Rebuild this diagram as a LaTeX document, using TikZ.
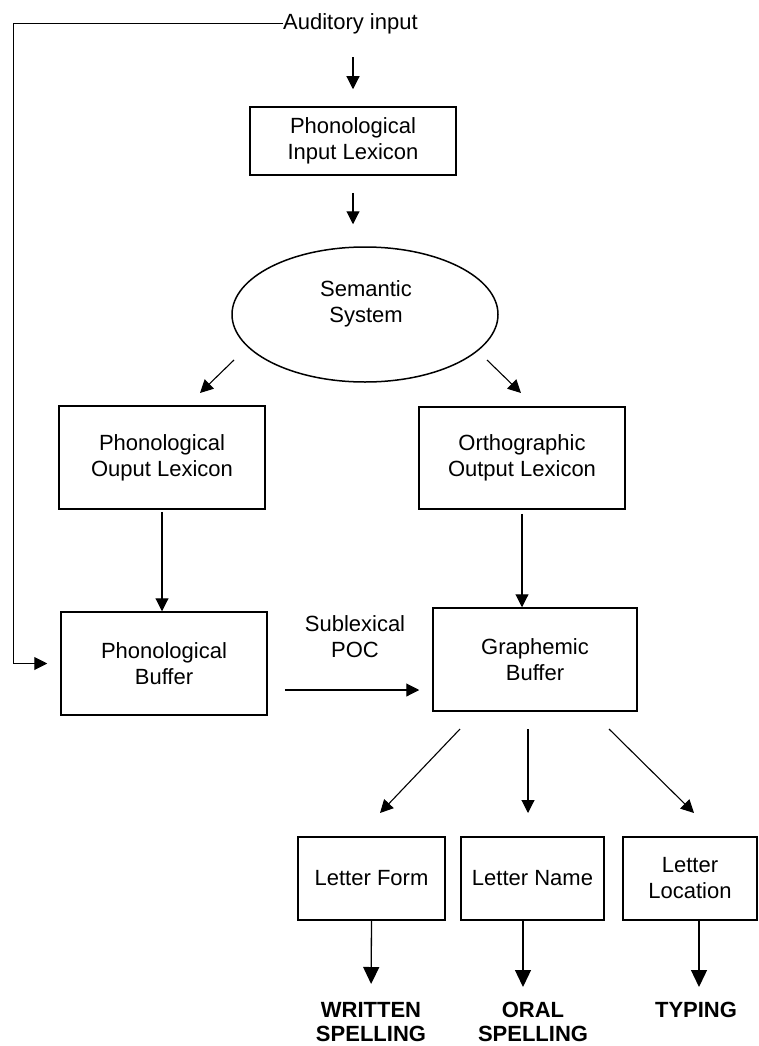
\documentclass[tikz,border=0pt]{standalone}
\usepackage{fontspec}
\setmainfont{Liberation Sans}
\usetikzlibrary{arrows.meta,shapes.geometric}

\begin{document}
\begin{tikzpicture}[x=1pt,y=-1pt,
        every node/.style={font=\fontsize{22}{26}\selectfont},
        box/.style={draw,line width=1.5pt,rectangle,align=center,inner sep=0pt},
        link/.style={line width=1.1pt,-{Triangle[length=13pt,width=13pt]}},
        biglink/.style={line width=1.3pt,-{Triangle[length=17pt,width=16pt]}},
        outlbl/.style={font=\fontsize{22}{24}\selectfont\bfseries,align=center,inner sep=0pt,anchor=north}]
        \useasboundingbox (0,0) rectangle (758,1046);
        % Input and lexicons
        \node[inner sep=0pt,anchor=west,text height=16pt,text depth=5pt] (aud) at (283,24) {Auditory input};
        \node[box,minimum width=206pt,minimum height=68pt] (pil) at (353,141) {Phonological\\Input Lexicon};
        \node[draw,ellipse,line width=1.5pt,minimum width=266pt,minimum height=135pt,inner sep=0pt] (sem) at (365,314.5) {};
        \node[align=center,inner sep=0pt] (semtxt) at (366,304) {Semantic\\System};
        \node[box,minimum width=206pt,minimum height=103pt] (pol) at (162,457.5) {Phonological\\Ouput Lexicon};
        \node[box,minimum width=206pt,minimum height=102pt] (ool) at (522,458) {Orthographic\\Output Lexicon};
        % Buffers
        \node[box,minimum width=206pt,minimum height=103pt] (pb) at (164,663.5) {Phonological\\Buffer};
        \node[box,minimum width=204pt,minimum height=103pt] (gb) at (535,659.5) {Graphemic\\Buffer};
        \node[align=center,inner sep=0pt] (sublex) at (355,637) {Sublexical\\POC};
        % Letter codes and outputs
        \node[box,minimum width=147pt,minimum height=83pt] (lf) at (371.5,878.5) {Letter Form};
        \node[box,minimum width=143pt,minimum height=83pt] (ln) at (532.5,878.5) {Letter Name};
        \node[box,minimum width=134pt,minimum height=83pt] (ll) at (690,878.5) {Letter\\Location};
        \node[outlbl] (ws) at (371,1002) {WRITTEN\\SPELLING};
        \node[outlbl] (os) at (533,1002) {ORAL\\SPELLING};
        \node[outlbl] (ty) at (696,1002) {TYPING};
        % Free ends of the slanted arrows
        \coordinate (lt) at (13,24);
        \coordinate (semL) at (234,360);
        \coordinate (polT) at (200,393);
        \coordinate (semR) at (487,360);
        \coordinate (oolT) at (521,393);
        \coordinate (gbA) at (460,729);
        \coordinate (gbB) at (528,729);
        \coordinate (gbC) at (609,729);
        \coordinate (lfT) at (380,813);
        \coordinate (lnT) at (528,813);
        \coordinate (llT) at (694,813);
        % Arrows
        \draw[link,shorten <=22.5pt,shorten >=17pt] (aud.south -| pil.north) -- (pil.north);
        \draw[link,shorten <=17pt,shorten >=22pt] (pil.south) -- (pil.south |- sem.north);
        \draw[link] (semL) -- (polT);
        \draw[link] (semR) -- (oolT);
        \draw[link,shorten <=2pt] (pol.south) -- (pol.south |- pb.north);
        \draw[link,shorten <=4pt] (ool.south) -- (ool.south |- gb.north);
        \draw[link,line width=1pt,shorten >=13pt] (aud.west) -- (lt) |- (pb.west);
        \draw[link,shorten <=17pt,shorten >=13pt] ([yshift=-26.5pt]pb.east) -- ([yshift=-26.5pt]pb.east -| gb.west);
        \draw[link] (gbA) -- (lfT);
        \draw[link] (gbB) -- (lnT);
        \draw[link] (gbC) -- (llT);
        \draw[biglink,shorten >=18pt] (lf.south) -- (ws.north);
        \draw[biglink,shorten >=15pt] ([xshift=-9.5pt]ln.south) -- ([xshift=-9.5pt]ln.south |- os.north);
        \draw[biglink,shorten >=15pt] ([xshift=9pt]ll.south) -- ([xshift=9pt]ll.south |- ty.north);
\end{tikzpicture}
\end{document}
